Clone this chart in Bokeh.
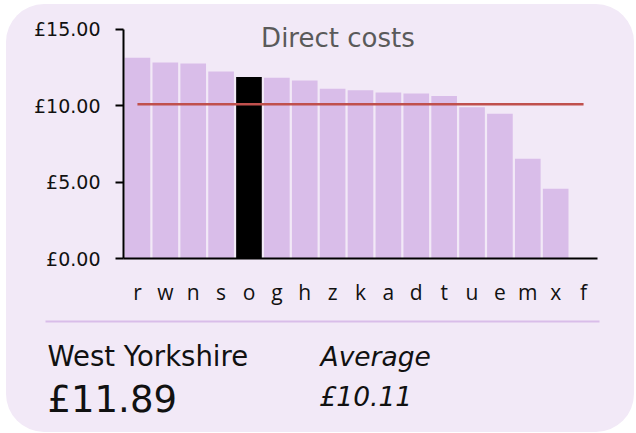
from bokeh.plotting import figure
from bokeh.models import Range1d, FactorRange, Label, PrintfTickFormatter, FixedTicker
from bokeh.layouts import column
from bokeh.core.properties import value
from bokeh.embed import file_html
from bokeh.resources import INLINE

# ---- data ----
categories = ["r", "w", "n", "s", "o", "g", "h", "z", "k", "a", "d", "t", "u", "e", "m", "x", "f"]
values = [13.14, 12.84, 12.77, 12.25, 11.89, 11.83, 11.66, 11.11, 11.02, 10.87, 10.81, 10.65,
          9.91, 9.48, 6.53, 4.56, float("nan")]
highlight = "o"
region_name = "West Yorkshire"
average = 10.11
title_text = "Direct costs"
y_ticks = [0, 5, 10, 15]

CARD = "#f2e9f7"
BAR = "#d9bde9"
HL = "#000000"
AVG = "#c0504d"

colors = [HL if c == highlight else BAR for c in categories]
sel_value = values[categories.index(highlight)]

# ---- chart ----
p = figure(x_range=FactorRange(*categories), y_range=Range1d(0, 15.98),
           width=628, height=310, output_backend="svg", toolbar_location=None,
           min_border_left=117, min_border_right=37, min_border_top=10, min_border_bottom=56)
p.background_fill_color = None
p.border_fill_color = None
p.outline_line_color = None
p.grid.visible = False
try:
    p.frame_align = False
except Exception:
    pass

p.vbar(x=categories, top=values, width=0.92, fill_color=colors, line_color=None)
p.line(x=[categories[0], categories[-1]], y=[average, average], line_color=AVG, line_width=2.5)

p.yaxis.bounds = (0, 15)
p.yaxis.ticker = FixedTicker(ticks=y_ticks)
p.yaxis.formatter = PrintfTickFormatter(format="£%.2f")
p.yaxis.axis_line_width = 2
p.yaxis.major_tick_line_width = 2
p.yaxis.major_tick_out = 8
p.yaxis.major_tick_in = 0
p.yaxis.minor_tick_line_color = None
p.yaxis.major_label_standoff = 15
p.yaxis.major_label_text_font = "DejaVu Sans"
p.yaxis.major_label_text_font_size = "19px"
p.yaxis.major_label_text_color = "#111111"

p.xaxis.axis_line_width = 2
p.xaxis.major_tick_line_color = None
p.xaxis.minor_tick_line_color = None
p.xaxis.major_label_standoff = 13
p.xaxis.major_label_text_font = "Open Sans"
p.xaxis.major_label_text_font_size = "21px"
p.xaxis.major_label_text_color = "#111111"

p.add_layout(Label(x=7.69, y=14.45, text=title_text, text_align="center", text_baseline="alphabetic",
                   text_font="DejaVu Sans", text_font_size="26px", text_color="#5a5a5a"))

# ---- info panel ----
q = figure(x_range=Range1d(0, 628), y_range=Range1d(118, 0), width=628, height=118,
           output_backend="svg", toolbar_location=None, min_border=0,
           x_axis_location=None, y_axis_location=None)
q.background_fill_color = None
q.border_fill_color = None
q.outline_line_color = None
q.grid.visible = False
try:
    q.frame_align = False
except Exception:
    pass
q.segment(x0=[39], y0=[7], x1=[593], y1=[7], line_color=BAR, line_width=2)
q.text(x=[41], y=[41.5], text=[region_name], text_font=value("DejaVu Sans"), text_font_size="27.5px",
       text_baseline="alphabetic", text_color="#111111")
q.text(x=[41], y=[85], text=["£%.2f" % sel_value], text_font=value("DejaVu Sans"), text_font_size="37px",
       text_baseline="alphabetic", text_color="#111111")
q.text(x=[314], y=[42], text=["Average"], text_font=value("DejaVu Sans"), text_font_size="26.5px",
       text_font_style="italic", text_baseline="alphabetic", text_color="#111111")
q.text(x=[313], y=[82], text=["£%.2f" % average], text_font=value("DejaVu Sans"), text_font_size="26.5px",
       text_font_style="italic", text_baseline="alphabetic", text_color="#111111")

layout = column(p, q, width=628, height=428,
                styles={"background-color": CARD, "border-radius": "38px",
                        "margin-left": "6px", "margin-top": "4px"})

open("out.html", "w").write(file_html(layout, INLINE))
